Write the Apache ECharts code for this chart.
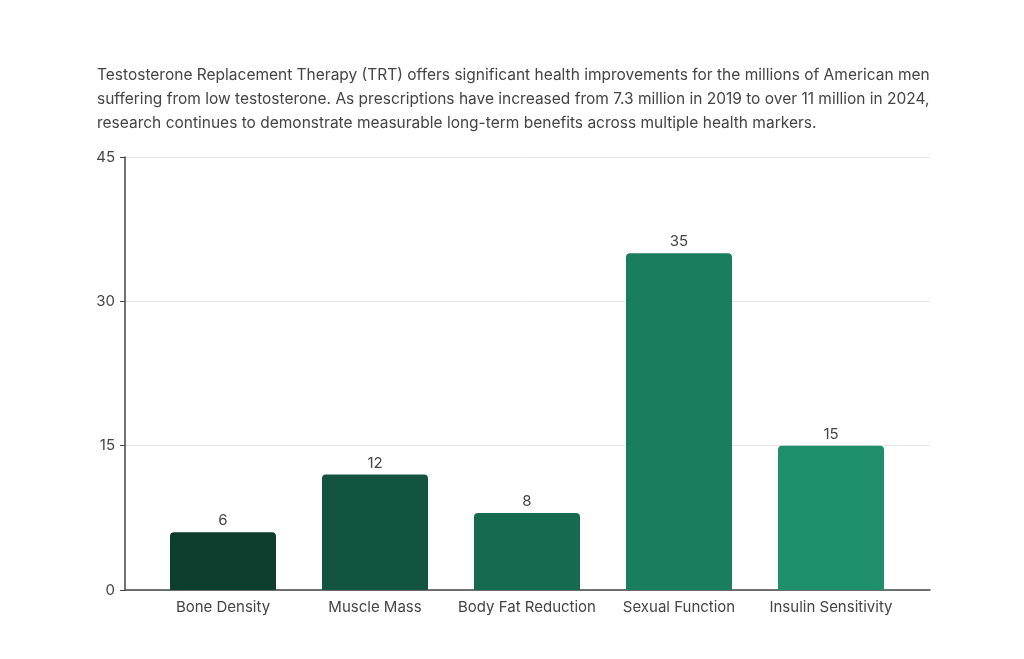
<!DOCTYPE html>
<html><head><meta charset="utf-8">
<script src="https://cdn.jsdelivr.net/npm/echarts@6/dist/echarts.min.js"></script>
<style>body{margin:0;background:#fff}#c{width:1024px;height:659px}</style>
</head><body><div id="c"></div>
<script>
const categories = ['Bone Density','Muscle Mass','Body Fat Reduction','Sexual Function','Insulin Sensitivity'];
const values = [6,12,8,35,15];
const colors = ['#0d3d2d','#135441','#166a4f','#1a7d5d','#1f8f6b'];
const chart = echarts.init(document.getElementById('c'));
const yBase = {type:'value',min:0,max:45,interval:15};
chart.setOption({
  backgroundColor:'#fff',
  textStyle:{fontFamily:'Inter'},
  title:{left:92,top:58,text:'Testosterone Replacement Therapy (TRT) offers significant health improvements for the millions of American men\nsuffering from low testosterone. As prescriptions have increased from 7.3 million in 2019 to over 11 million in 2024,\nresearch continues to demonstrate measurable long-term benefits across multiple health markers.',
    textStyle:{fontFamily:'Inter',fontSize:15.5,fontWeight:'normal',color:'#444',lineHeight:24}},
  grid:[{left:125,right:94,top:157,bottom:69},{left:147,right:117,top:157,bottom:69}],
  xAxis:[
    {gridIndex:0,type:'value',min:0,max:1,axisLine:{show:true,onZero:false,lineStyle:{color:'#444',width:1.5}},
     axisTick:{show:false},axisLabel:{show:false},splitLine:{show:false}},
    {gridIndex:1,type:'category',data:categories,
    axisLine:{show:false},
    axisTick:{alignWithLabel:true,lineStyle:{color:'#444',width:1.5},length:5},
    axisLabel:{color:'#444',fontSize:15,margin:10,interval:0}}],
  yAxis:[
    Object.assign({gridIndex:0,
    axisLine:{show:true,lineStyle:{color:'#444',width:1.5}},
    axisTick:{show:true,lineStyle:{color:'#444'}},
    splitLine:{lineStyle:{color:'#e6e6e6'}},
    axisLabel:{color:'#444',fontSize:15,margin:10}},yBase),
    Object.assign({gridIndex:1,axisLine:{show:false},axisTick:{show:false},axisLabel:{show:false},splitLine:{show:false}},yBase)],
  series:[{type:'bar',xAxisIndex:1,yAxisIndex:1,barWidth:106,z:1,
    data:values.map((v,i)=>({value:v,itemStyle:{color:colors[i],borderRadius:[4,4,0,0]}})),
    label:{show:true,position:'top',color:'#444',fontSize:15,distance:4}}]
});
</script></body></html>
